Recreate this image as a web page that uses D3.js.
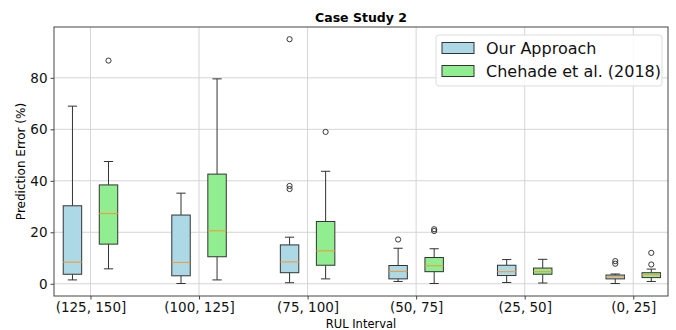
<!DOCTYPE html>
<html>
<head>
<meta charset="utf-8">
<script src="https://cdn.jsdelivr.net/npm/d3@7"></script>
<style>
  body { margin: 0; background: #fff; }
  text { font-family: "DejaVu Sans", sans-serif; }
</style>
</head>
<body>
<svg id="chart" width="676" height="330"></svg>
<script>
// Data.
const categories = ["(125, 150]", "(100, 125]", "(75, 100]", "(50, 75]", "(25, 50]", "(0, 25]"];
const seriesNames = ["Our Approach", "Chehade et al. (2018)"];
const seriesColors = ["#add8e6", "#90ee90"];

// Our Approach
const ourLow = [1.5, 0.1, 0.4, 0.9, 0.5, 0.1];
const ourQ1 = [3.7, 3.1, 4.3, 1.9, 3.2, 1.9];
const ourMedian = [8.4, 8.3, 8.5, 4.8, 4.7, 2.7];
const ourQ3 = [30.3, 26.7, 15.1, 7.1, 7.2, 3.4];
const ourHigh = [69.0, 35.2, 18.1, 13.8, 9.4, 3.8];
const ourOutliers = [[], [], [95.0, 38.0, 36.8], [17.2], [], [8.8, 7.8]];

// Chehade et al. (2018)
const chLow = [5.8, 1.5, 1.9, 0.1, 0.3, 0.9];
const chQ1 = [15.4, 10.5, 7.2, 4.7, 3.7, 2.4];
const chMedian = [27.3, 20.6, 12.8, 7.0, 4.7, 3.5];
const chQ3 = [38.4, 42.6, 24.2, 10.2, 6.1, 4.3];
const chHigh = [47.5, 79.6, 43.7, 13.6, 9.5, 5.7];
const chOutliers = [[86.7], [], [59.0], [21.2, 20.5], [], [12.0, 7.5]];

const yTicks = [0, 20, 40, 60, 80];

// Layout
const margin = { top: 27, right: 8, bottom: 34, left: 54 };
const width = 676, height = 330;
const svg = d3.select("#chart");

const x = d3.scaleLinear()
    .domain([-0.336, 5.32])
    .range([margin.left, width - margin.right]);
const y = d3.scaleLinear()
    .domain([-4.75, 99.75])
    .range([height - margin.bottom, margin.top]);

const offset = 0.166, boxW = 0.17;

// Grid lines
const grid = svg.append("g").attr("stroke", "#d0d0d0").attr("stroke-width", 0.9);
grid.selectAll("line.gx").data(categories).join("line")
    .attr("x1", (d, i) => x(i)).attr("x2", (d, i) => x(i))
    .attr("y1", margin.top).attr("y2", height - margin.bottom);
grid.selectAll("line.gy").data(yTicks).join("line")
    .attr("x1", margin.left).attr("x2", width - margin.right)
    .attr("y1", d => y(d)).attr("y2", d => y(d));

// Build box records from the arrays
const series = [
    { low: ourLow, q1: ourQ1, med: ourMedian, q3: ourQ3, high: ourHigh, out: ourOutliers },
    { low: chLow, q1: chQ1, med: chMedian, q3: chQ3, high: chHigh, out: chOutliers }
];
const boxes = [];
series.forEach((s, si) => {
    categories.forEach((c, i) => {
        boxes.push({
            pos: i + (si === 0 ? -offset : offset),
            color: seriesColors[si],
            low: s.low[i], q1: s.q1[i], med: s.med[i], q3: s.q3[i], high: s.high[i],
            out: s.out[i]
        });
    });
});

const bx = svg.append("g");
const g = bx.selectAll("g").data(boxes).join("g");
const stroke = "#333";

// Whiskers
g.append("line")
    .attr("x1", d => x(d.pos)).attr("x2", d => x(d.pos))
    .attr("y1", d => y(d.q3)).attr("y2", d => y(d.high))
    .attr("stroke", stroke);
g.append("line")
    .attr("x1", d => x(d.pos)).attr("x2", d => x(d.pos))
    .attr("y1", d => y(d.q1)).attr("y2", d => y(d.low))
    .attr("stroke", stroke);
// Caps
["high", "low"].forEach(k => {
    g.append("line")
        .attr("x1", d => x(d.pos - boxW / 4)).attr("x2", d => x(d.pos + boxW / 4))
        .attr("y1", d => y(d[k])).attr("y2", d => y(d[k]))
        .attr("stroke", stroke);
});
// Box
g.append("rect")
    .attr("x", d => x(d.pos - boxW / 2))
    .attr("width", d => x(d.pos + boxW / 2) - x(d.pos - boxW / 2))
    .attr("y", d => y(d.q3))
    .attr("height", d => y(d.q1) - y(d.q3))
    .attr("fill", d => d.color)
    .attr("stroke", stroke).attr("stroke-width", 1);
// Median
g.append("line")
    .attr("x1", d => x(d.pos - boxW / 2)).attr("x2", d => x(d.pos + boxW / 2))
    .attr("y1", d => y(d.med)).attr("y2", d => y(d.med))
    .attr("stroke", "#f59a3a").attr("stroke-width", 1.1);
// Outliers
g.selectAll("circle").data(d => d.out.map(v => ({ pos: d.pos, v }))).join("circle")
    .attr("cx", d => x(d.pos)).attr("cy", d => y(d.v))
    .attr("r", 2.6)
    .attr("fill", "none").attr("stroke", "#222").attr("stroke-width", 0.9);

// Axes
const xAxis = svg.append("g")
    .attr("transform", `translate(0,${height - margin.bottom})`)
    .call(d3.axisBottom(x).tickValues(d3.range(categories.length))
        .tickFormat(i => categories[i]).tickSize(3.5).tickPadding(3));
const yAxis = svg.append("g")
    .attr("transform", `translate(${margin.left},0)`)
    .call(d3.axisLeft(y).tickValues(yTicks).tickSize(3.5).tickPadding(3));
[xAxis, yAxis].forEach(a => {
    a.select(".domain").remove();
    a.selectAll("line").attr("stroke", "#444");
    a.selectAll("text").attr("font-size", 13.5).attr("fill", "#111")
        .style("font-family", "DejaVu Sans, sans-serif");
});

// Frame
svg.append("rect")
    .attr("x", margin.left).attr("y", margin.top)
    .attr("width", width - margin.left - margin.right)
    .attr("height", height - margin.top - margin.bottom)
    .attr("fill", "none").attr("stroke", "#444").attr("stroke-width", 1);

// Title and labels
svg.append("text")
    .attr("x", (margin.left + width - margin.right) / 2).attr("y", 22)
    .attr("text-anchor", "middle").attr("font-size", 12.5).attr("font-weight", "bold")
    .text("Case Study 2");
svg.append("text")
    .attr("x", (margin.left + width - margin.right) / 2).attr("y", 328)
    .attr("text-anchor", "middle").attr("font-size", 11.5)
    .text("RUL Interval");
svg.append("text")
    .attr("transform", `translate(25,${(margin.top + height - margin.bottom) / 2}) rotate(-90)`)
    .attr("text-anchor", "middle").attr("font-size", 12)
    .text("Prediction Error (%)");

// Legend
const lg = svg.append("g").attr("transform", "translate(436,35)");
lg.append("rect")
    .attr("width", 226).attr("height", 51).attr("rx", 3)
    .attr("fill", "rgba(255,255,255,0.85)").attr("stroke", "#ddd");
seriesNames.forEach((name, i) => {
    lg.append("rect")
        .attr("x", 6).attr("y", 7.5 + i * 23)
        .attr("width", 32).attr("height", 11)
        .attr("fill", seriesColors[i]).attr("stroke", stroke);
    lg.append("text")
        .attr("x", 50).attr("y", 13 + i * 23).attr("dy", "0.35em")
        .attr("font-size", 16).attr("fill", "#111")
        .text(name);
});
</script>
</body>
</html>
